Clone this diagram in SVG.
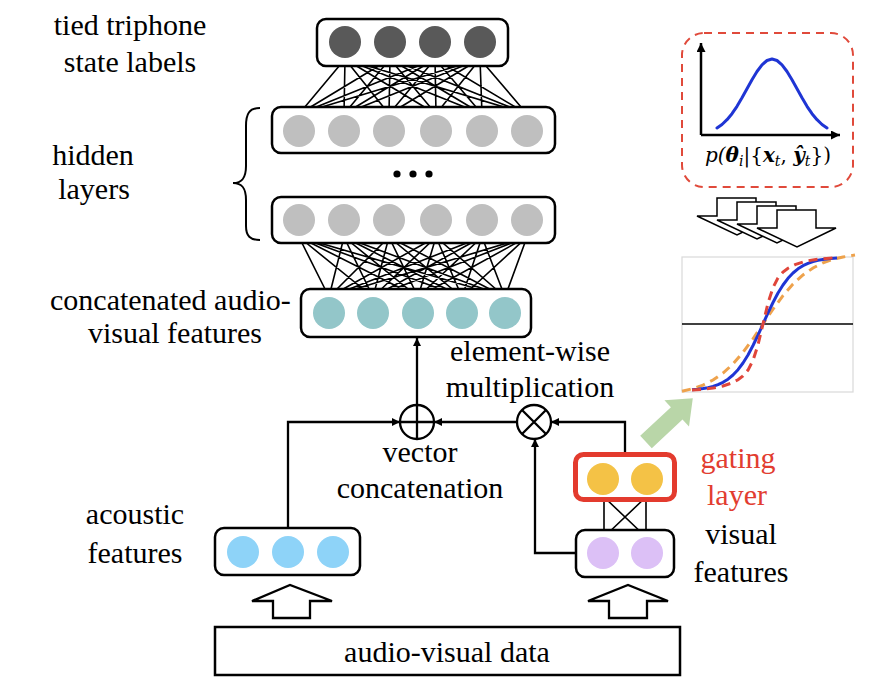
<svg xmlns="http://www.w3.org/2000/svg" width="880" height="690" viewBox="0 0 880 690">
<defs>
<style>
.t{font-family:"Liberation Serif","Times New Roman",serif;font-size:30px;fill:#000}
.red{fill:#e23d30}
.box{fill:#fff;stroke:#000;stroke-width:2.5}
.ln{fill:none;stroke:#000;stroke-width:1.6}
.cn{fill:none;stroke:#000;stroke-width:2.3}
.top{fill:#595959}
.hid{fill:#bfbfbf}
.cat{fill:#93c6c9}
.aco{fill:#8ed3f8}
.gat{fill:#f4c246}
.vis{fill:#dcc0f6}
.harrow{fill:#fff;stroke:#000;stroke-width:2.3}
.stk{fill:#fff;stroke:#000;stroke-width:1.5}
.op{fill:#fff;stroke:#000;stroke-width:2.3}
</style>
<marker id="arr" viewBox="0 0 10 10" refX="10" refY="5" markerUnits="userSpaceOnUse" markerWidth="9" markerHeight="8" orient="auto">
<path d="M0,0 L10,5 L0,10 z" fill="#000"/>
</marker>
<marker id="ax" viewBox="0 0 10 10" refX="10" refY="5" markerUnits="userSpaceOnUse" markerWidth="11" markerHeight="9" orient="auto">
<path d="M0,0 L10,5 L0,10 z" fill="#000"/>
</marker>
</defs>
<rect width="880" height="690" fill="#fff"/>

<g id="connectors">
<path class="ln" d="M345,59L299,114M345,59L344,114M345,59L389,114M345,59L436,114M345,59L482,114M345,59L527,114
M390,59L299,114M390,59L344,114M390,59L389,114M390,59L436,114M390,59L482,114M390,59L527,114
M435,59L299,114M435,59L344,114M435,59L389,114M435,59L436,114M435,59L482,114M435,59L527,114
M480,59L299,114M480,59L344,114M480,59L389,114M480,59L436,114M480,59L482,114M480,59L527,114"/>
<path class="ln" d="M299,237L329,297M299,237L373,297M299,237L418,297M299,237L462,297M299,237L505,297
M344,237L329,297M344,237L373,297M344,237L418,297M344,237L462,297M344,237L505,297
M389,237L329,297M389,237L373,297M389,237L418,297M389,237L462,297M389,237L505,297
M436,237L329,297M436,237L373,297M436,237L418,297M436,237L462,297M436,237L505,297
M482,237L329,297M482,237L373,297M482,237L418,297M482,237L462,297M482,237L505,297
M527,237L329,297M527,237L373,297M527,237L418,297M527,237L462,297M527,237L505,297"/>
<path class="ln" d="M604,497L604,537M646,497L646,537M604,497L646,537M646,497L604,537"/>
<path class="cn" d="M288,528V422H400" marker-end="url(#arr)"/>
<path class="cn" d="M517,422H434" marker-end="url(#arr)"/>
<path class="cn" d="M625,454V422H551" marker-end="url(#arr)"/>
<path class="cn" d="M576,553H535V439" marker-end="url(#arr)"/>
<path class="cn" d="M417,405V338" marker-end="url(#arr)"/>
</g>

<g id="output-layer">
<rect class="box" x="317" y="19" width="191" height="47" rx="9"/>
<circle class="top" cx="345" cy="42" r="16"/>
<circle class="top" cx="390" cy="42" r="16"/>
<circle class="top" cx="435" cy="42" r="16"/>
<circle class="top" cx="480" cy="42" r="16"/>
<text class="t" x="130" y="35" text-anchor="middle">tied triphone</text>
<text class="t" x="130" y="72" text-anchor="middle">state labels</text>
</g>

<g id="hidden-layer-1">
<rect class="box" x="272" y="107" width="283" height="46" rx="9"/>
<circle class="hid" cx="299" cy="131" r="16"/>
<circle class="hid" cx="344" cy="131" r="16"/>
<circle class="hid" cx="389" cy="131" r="16"/>
<circle class="hid" cx="436" cy="131" r="16"/>
<circle class="hid" cx="482" cy="131" r="16"/>
<circle class="hid" cx="527" cy="131" r="16"/>
</g>

<g id="ellipsis" fill="#000">
<circle cx="397" cy="174" r="3.6"/>
<circle cx="413" cy="174" r="3.6"/>
<circle cx="429" cy="174" r="3.6"/>
</g>

<g id="hidden-layer-2">
<rect class="box" x="272" y="197" width="283" height="46" rx="9"/>
<circle class="hid" cx="299" cy="220" r="16"/>
<circle class="hid" cx="344" cy="220" r="16"/>
<circle class="hid" cx="389" cy="220" r="16"/>
<circle class="hid" cx="436" cy="220" r="16"/>
<circle class="hid" cx="482" cy="220" r="16"/>
<circle class="hid" cx="527" cy="220" r="16"/>
</g>

<g id="hidden-label">
<path d="M260,108 C249,108 246,114 246,126 L246,166 C246,178 242,183 233,183 C242,183 246,188 246,200 L246,226 C246,236 250,240 260,240" fill="none" stroke="#000" stroke-width="2"/>
<text class="t" x="93" y="165" text-anchor="middle">hidden</text>
<text class="t" x="94" y="199" text-anchor="middle">layers</text>
</g>

<g id="concat-layer">
<rect class="box" x="301" y="289" width="230" height="48" rx="9"/>
<circle class="cat" cx="329" cy="313" r="16"/>
<circle class="cat" cx="373" cy="313" r="16"/>
<circle class="cat" cx="418" cy="313" r="16"/>
<circle class="cat" cx="462" cy="313" r="16"/>
<circle class="cat" cx="505" cy="313" r="16"/>
<text class="t" x="50" y="310">concatenated audio-</text>
<text class="t" x="175" y="343" text-anchor="middle">visual features</text>
</g>

<g id="concat-op">
<circle class="op" cx="417" cy="422" r="17"/>
<path d="M400,422H434M417,405V439" stroke="#000" stroke-width="2.3"/>
<text class="t" x="420" y="462" text-anchor="middle">vector</text>
<text class="t" x="420" y="498" text-anchor="middle">concatenation</text>
</g>

<g id="mult-op">
<circle class="op" cx="534" cy="422" r="17"/>
<path d="M522,410L546,434M546,410L522,434" stroke="#000" stroke-width="2.3"/>
<text class="t" x="530" y="361" text-anchor="middle">element-wise</text>
<text class="t" x="530" y="397" text-anchor="middle">multiplication</text>
</g>

<g id="acoustic">
<rect class="box" x="215" y="528" width="145" height="47" rx="9"/>
<circle class="aco" cx="243" cy="552" r="16"/>
<circle class="aco" cx="288" cy="552" r="16"/>
<circle class="aco" cx="333" cy="552" r="16"/>
<text class="t" x="135" y="524" text-anchor="middle">acoustic</text>
<text class="t" x="135" y="563" text-anchor="middle">features</text>
</g>

<g id="gating">
<rect x="575.5" y="454.5" width="99" height="45" rx="8" fill="#fff" stroke="#e33b2e" stroke-width="5"/>
<circle class="gat" cx="603" cy="479" r="16"/>
<circle class="gat" cx="647" cy="479" r="16"/>
<text class="t red" x="738" y="468" text-anchor="middle">gating</text>
<text class="t red" x="737" y="505" text-anchor="middle">layer</text>
</g>

<g id="visual">
<rect class="box" x="576" y="530" width="98" height="47" rx="9"/>
<circle class="vis" cx="603" cy="553" r="16"/>
<circle class="vis" cx="647" cy="553" r="16"/>
<text class="t" x="741" y="544" text-anchor="middle">visual</text>
<text class="t" x="741" y="582" text-anchor="middle">features</text>
</g>

<g id="input-arrows">
<polygon class="harrow" points="273,618 273,601 252,601 290,585 332,601 310,601 310,618"/>
<polygon class="harrow" points="609,618 609,601 588,601 628,585 668,601 647,601 647,618"/>
</g>

<g id="av-data">
<rect class="box" x="215" y="627" width="465" height="48"/>
<text class="t" x="447" y="662" text-anchor="middle">audio-visual data</text>
</g>

<g id="gaussian">
<rect x="682" y="33" width="171" height="154" rx="22" fill="none" stroke="#e04a3b" stroke-width="2" stroke-dasharray="8 6"/>
<path d="M701,135V43" stroke="#000" stroke-width="2.5" marker-end="url(#ax)"/>
<path d="M701,135H840" stroke="#000" stroke-width="2.5" marker-end="url(#ax)"/>
<polyline fill="none" stroke="#1f35d4" stroke-width="3" stroke-linejoin="round" stroke-linecap="round" points="717,128 722,124.5 727,119.7 732,113.7 737,106.3 742,97.8 747,88.7 752,79.8 757,71.5 762,64.8 767,60.5 772,59 777,60.5 782,64.8 787,71.5 792,79.8 797,88.7 802,97.8 807,106.3 812,113.7 817,119.7 822,124.5 827,128"/>
<text x="768" y="162" text-anchor="middle" font-family="DejaVu Serif, serif" font-size="20" font-style="italic">p(<tspan font-weight="bold">&#952;</tspan><tspan font-size="14" dy="4">i</tspan><tspan dy="-4" font-style="normal">|{</tspan><tspan font-weight="bold">x</tspan><tspan font-size="14" dy="4">t</tspan><tspan dy="-4" font-style="normal">, </tspan><tspan font-weight="bold">&#375;</tspan><tspan font-size="14" dy="4">t</tspan><tspan dy="-4" font-style="normal">})</tspan></text>
</g>

<g id="stacked-arrows">
<polygon class="stk" points="717,198 756,198 756,216 776,216 737,235 697,216 717,216"/>
<polygon class="stk" points="737,202 776,202 776,220 796,220 757,239 717,220 737,220"/>
<polygon class="stk" points="757,206 796,206 796,224 816,224 777,243 737,224 757,224"/>
<polygon class="stk" points="777,210 816,210 816,228 836,228 797,247 757,228 777,228"/>
</g>

<g id="sigmoid">
<rect x="682" y="257" width="171" height="135" fill="#fff" stroke="#d9d9d9" stroke-width="1.2"/>
<path d="M682,324H853" stroke="#000" stroke-width="1.5"/>
<polyline fill="none" stroke="#eea24c" stroke-width="3" stroke-dasharray="9 6" points="682,391.3 693,388.6 703,385.1 713,380 723,373.1 733,364 743,352.4 753,338.8 763,324 773,309.2 783,295.6 793,284 803,274.9 813,268 823,262.9 833,259.4 843,257 855,255"/>
<polyline fill="none" stroke="#1f35d4" stroke-width="3" stroke-linejoin="round" points="692,389.8 698,389.3 703,388.6 708,387.7 713,386.4 718,384.6 723,382.3 728,379.2 733,375 738,369.7 743,363 748,355 753,345.5 758,335.1 763,324 768,312.9 773,302.5 778,293 783,285 788,278.3 793,273 798,268.8 803,265.7 808,263.4 813,261.6 818,260.3 823,259.4 828,258.7 837,257.9"/>
<polyline fill="none" stroke="#e0453a" stroke-width="3" stroke-dasharray="9 6" points="692,390.1 703,389.3 713,388.1 723,386 731,383.3 738,379.8 743,375.9 748,370.1 753,360.4 758,344.9 763,324 768,303.1 773,287.6 778,277.9 783,272.1 788,268.2 795,264.7 803,262 813,259.9 823,258.7 835,257.8"/>
</g>

<g id="green-arrow">
<polygon fill="#b9d6a8" points="0,-8.5 42,-8.5 42,-18 64,0 42,18 42,8.5 0,8.5" transform="translate(646,442) rotate(-43)"/>
</g>
</svg>
